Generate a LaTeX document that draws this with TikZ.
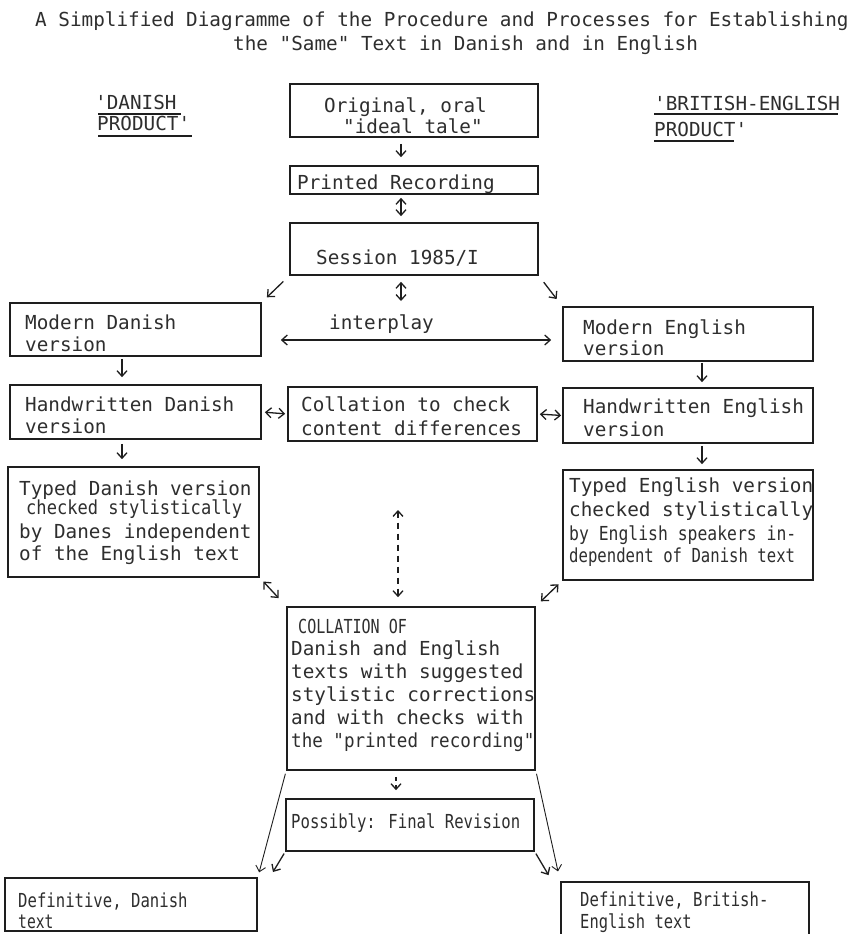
\documentclass[tikz,border=0pt]{standalone}
\usepackage{fontspec}
\usepackage{graphicx}
\newfontfamily\dm{DejaVu Sans Mono}[Ligatures=TeXOff]
\usetikzlibrary{arrows.meta,fit}
\definecolor{ink}{HTML}{2E2E2E}
\definecolor{lineink}{HTML}{1E1E1E}
\newcommand\sx[2]{\scalebox{#1}[1]{#2}}
\tikzset{
  bx/.style={draw=lineink, line width=1.7pt, inner sep=0pt, fit={#1}},
  txt/.style={inner sep=0pt, anchor=base west, text=ink, font=\fontsize{19.3}{23}\selectfont\dm},
  ul/.style={draw=lineink, line width=1.3pt},
  tip/.tip={Straight Barb[length=5.5pt,width=10pt]},
  arr/.style={draw=lineink, line width=1.3pt, -tip},
  dbl/.style={draw=lineink, line width=1.3pt, tip-tip},
}
\begin{document}
\begin{tikzpicture}[x=1pt,y=-1pt]
\fill[white] (0,0) rectangle (861,934);
\useasboundingbox (0,0) rectangle (861,934);

% titles
\node[txt] (title1) at (35,27) {A Simplified Diagramme of the Procedure and Processes for Establishing};
\node[txt] (title2) at (233,51) {the "Same" Text in Danish and in English};

% side labels
\node[txt] (dp1) at (95,109) {'DANISH};
\node[txt] (dp2) at (97,130) {PRODUCT'};
\draw[ul] (98,114) -- (181,114);
\draw[ul] (98,136) -- (192,136);
\node[txt] (bp1) at (654,110) {'BRITISH-ENGLISH};
\node[txt] (bp2) at (654,136) {PRODUCT'};
\draw[ul] (654,114) -- (838,114);
\draw[ul] (654,141) -- (734,141);

% boxes
\node[bx={(290,84) (538,137)}] (orig) {};
\node[bx={(290,166) (538,194)}] (printed) {};
\node[bx={(290,223) (538,275)}] (session) {};
\node[bx={(10,303) (261,356)}] (md) {};
\node[bx={(563,307) (813,361)}] (me) {};
\node[bx={(10,385) (261,439)}] (hd) {};
\node[bx={(288,387) (537,441)}] (coll) {};
\node[bx={(563,388) (813,443)}] (he) {};
\node[bx={(8,467) (259,577)}] (td) {};
\node[bx={(563,470) (813,580)}] (te) {};
\node[bx={(287,607) (535,770)}] (COLL) {};
\node[bx={(286,799) (534,851)}] (poss) {};
\node[bx={(5,878) (257,931)}] (dd) {};
\node[bx={(561,882) (809,950)}] (de) {};

% texts
\node[txt] (origT1) at (324,112) {Original, oral};
\node[txt] (origT2) at (343,133) {"ideal tale"};
\node[txt] (printedT) at (297,189) {Printed Recording};
\node[txt] (sessT) at (316,264) {Session 1985/I};
\node[txt] (mdT1) at (25,329) {Modern Danish};
\node[txt] (mdT2) at (25,351) {version};
\node[txt] (ipT) at (329,329) {interplay};
\node[txt] (meT1) at (583,334) {Modern English};
\node[txt] (meT2) at (583,355) {version};
\node[txt] (hdT1) at (25,411) {Handwritten Danish};
\node[txt] (hdT2) at (25,433) {version};
\node[txt] (collT1) at (301,411) {Collation to check};
\node[txt] (collT2) at (301,435) {content differences};
\node[txt] (heT1) at (583,413) {Handwritten English};
\node[txt] (heT2) at (583,436) {version};
\node[txt] (tdT1) at (19,495) {Typed Danish version};
\node[txt] (tdT2) at (26,514) {\sx{0.885}{checked stylistically}};
\node[txt] (tdT3) at (19,538) {by Danes independent};
\node[txt] (tdT4) at (19,560) {of the English text};
\node[txt] (teT1) at (569,492) {Typed English version};
\node[txt] (teT2) at (569,516) {checked stylistically};
\node[txt] (teT3) at (569,540) {\sx{0.85}{by English speakers in-}};
\node[txt] (teT4) at (569,562) {\sx{0.81}{dependent of Danish text}};
\node[txt] (CT1) at (298,633) {\sx{0.78}{COLLATION OF}};
\node[txt] (CT2) at (291,655) {Danish and English};
\node[txt] (CT3) at (291,678) {texts with suggested};
\node[txt] (CT4) at (291,701) {stylistic corrections};
\node[txt] (CT5) at (291,724) {and with checks with};
\node[txt] (CT6) at (291,747) {\sx{0.91}{the "printed recording"}};
\node[txt] (possT) at (291,828) {\sx{0.81}{Possibly: Final Revision}};
\node[txt] (ddT1) at (18,907) {\sx{0.81}{Definitive, Danish}};
\node[txt] (ddT2) at (18,928) {\sx{0.76}{text}};
\node[txt] (deT1) at (580,906) {\sx{0.81}{Definitive, British-}};
\node[txt] (deT2) at (580,928) {\sx{0.8}{English text}};

% connectors
\draw[arr, shorten <=6pt, shorten >=8pt] ([xshift=-13pt]orig.south) -- ([xshift=-13pt]printed.north);
\draw[dbl, shorten <=3pt, shorten >=6pt] ([xshift=-13pt]printed.south) -- ([xshift=-13pt]session.north);
\coordinate (ipm) at (401,301);
\draw[dbl, shorten <=6pt] ([xshift=-13pt]session.south) -- (ipm);
\draw[arr, shorten <=8pt, shorten >=7pt] (session.south west) -- (md.north east);
\draw[arr, shorten <=8pt, shorten >=9pt] (session.south east) -- (me.north west);
\coordinate (ipy) at (0,340);
\draw[dbl, shorten <=19pt, shorten >=11pt] (md.east |- ipy) -- (me.west |- ipy);
\draw[arr, shorten <=2pt, shorten >=7pt] ([xshift=-13.5pt]md.south) -- ([xshift=-13.5pt]hd.north);
\draw[arr, shorten <=1pt, shorten >=5pt] ([xshift=14pt]me.south) -- ([xshift=14pt]he.north);
\draw[dbl, shorten <=3pt, shorten >=2pt] (hd.east) -- (coll.west);
\draw[dbl, shorten <=2pt, shorten >=1pt] (coll.east) -- (he.west);
\draw[arr, shorten <=4pt, shorten >=7pt] ([xshift=-13.5pt]hd.south) -- ([xshift=-11.5pt]td.north);
\draw[arr, shorten <=2pt, shorten >=5pt] ([xshift=14pt]he.south) -- ([xshift=14pt]te.north);
\draw[dbl, shorten <=5pt, shorten >=11pt] (td.south east) -- (COLL.north west);
\draw[dbl, shorten <=5pt, shorten >=7pt] (te.south west) -- (COLL.north east);
\coordinate (dtop) at (398,510);
\draw[dbl, dash pattern=on 6pt off 5pt, shorten >=9pt] (dtop) -- (dtop |- COLL.north);
\draw[arr, dash pattern=on 4pt off 4pt, shorten <=6pt, shorten >=8pt] ([xshift=-15pt]COLL.south) -- ([xshift=-14pt]poss.north);
\draw[arr, line width=0.9pt, shorten <=3pt, shorten >=5pt] (COLL.south west) -- (dd.north east);
\draw[arr, shorten <=2pt, shorten >=6pt] (poss.south west) -- ([xshift=12pt]dd.north east);
\draw[arr, line width=0.9pt, shorten <=3pt, shorten >=10pt] (COLL.south east) -- (de.north west);
\draw[arr, shorten <=2pt, shorten >=7pt] (poss.south east) -- ([xshift=-8pt]de.north west);
\end{tikzpicture}
\end{document}
